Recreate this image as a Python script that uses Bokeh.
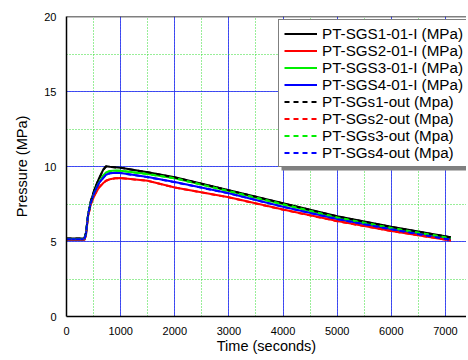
from bokeh.plotting import figure
from bokeh.models import SingleIntervalTicker, Span, Legend, LegendItem, Range1d, BoxAnnotation
from bokeh.embed import file_html
from bokeh.resources import INLINE

# ---- data ----
time_s = [0, 330, 360, 400, 450, 520, 600, 680, 730, 800, 900, 1000, 1500, 2000, 3000, 4000, 5000, 6000, 7100]

sgs1_in = [5.20, 5.20, 5.60, 6.80, 7.70, 8.50, 9.20, 9.80, 10.02, 9.98, 9.95, 9.92, 9.62, 9.28, 8.42, 7.55, 6.68, 5.98, 5.28]
sgs2_in = [5.10, 5.10, 5.40, 6.70, 7.50, 8.10, 8.60, 8.90, 9.05, 9.15, 9.22, 9.24, 9.05, 8.60, 7.95, 7.13, 6.36, 5.70, 5.07]
sgs3_in = [5.15, 5.15, 5.50, 6.80, 7.60, 8.30, 8.95, 9.40, 9.60, 9.70, 9.73, 9.72, 9.50, 9.22, 8.36, 7.48, 6.60, 5.90, 5.22]
sgs4_in = [5.15, 5.15, 5.50, 6.80, 7.60, 8.30, 8.90, 9.25, 9.45, 9.55, 9.58, 9.57, 9.30, 8.96, 8.22, 7.32, 6.50, 5.82, 5.12]

sgs1_out = [5.20, 5.20, 5.60, 6.80, 7.70, 8.50, 9.18, 9.78, 10.00, 9.97, 9.94, 9.91, 9.61, 9.27, 8.41, 7.54, 6.67, 5.97, 5.27]
sgs2_out = [5.10, 5.10, 5.40, 6.70, 7.50, 8.10, 8.60, 8.90, 9.05, 9.15, 9.21, 9.23, 9.04, 8.60, 7.94, 7.12, 6.35, 5.70, 5.07]
sgs3_out = [5.15, 5.15, 5.50, 6.80, 7.60, 8.30, 8.94, 9.39, 9.59, 9.69, 9.72, 9.71, 9.49, 9.21, 8.35, 7.47, 6.59, 5.89, 5.21]
sgs4_out = [5.15, 5.15, 5.50, 6.80, 7.60, 8.30, 8.90, 9.25, 9.45, 9.55, 9.58, 9.56, 9.29, 8.95, 8.21, 7.31, 6.49, 5.81, 5.11]

solid_labels = ["PT-SGS1-01-I (MPa)", "PT-SGS2-01-I (MPa)", "PT-SGS3-01-I (MPa)", "PT-SGS4-01-I (MPa)"]
dashed_labels = ["PT-SGs1-out (Mpa)", "PT-SGs2-out (Mpa)", "PT-SGs3-out (Mpa)", "PT-SGs4-out (Mpa)"]
colors = ["#000000", "#ff0000", "#00ee00", "#0000ff"]

FONT = "Liberation Sans"

X_MAX, Y_MAX = 7388, 20
FRAME_W, FRAME_H = 400, 300

p = figure(width=466, height=358, output_backend="svg", toolbar_location=None,
           x_range=Range1d(0, X_MAX), y_range=Range1d(0, Y_MAX),
           frame_width=FRAME_W, frame_height=FRAME_H,
           min_border_left=66, min_border_right=0, min_border_top=16, min_border_bottom=42)
p.outline_line_color = None
p.background_fill_color = "white"
p.border_fill_color = "white"

p.xaxis.ticker = SingleIntervalTicker(interval=1000, num_minor_ticks=2)
p.yaxis.ticker = SingleIntervalTicker(interval=5, num_minor_ticks=2)

for ax in (p.xaxis, p.yaxis):
    ax.major_tick_line_color = None
    ax.minor_tick_line_color = None
    ax.axis_line_color = "black"
    ax.axis_line_width = 1.5
    ax.major_label_text_font = FONT
    ax.major_label_text_font_size = "11px"
    ax.major_label_text_color = "black"
    ax.axis_label_text_font = FONT
    ax.axis_label_text_font_size = "14.5px"
    ax.axis_label_text_font_style = "normal"
    ax.axis_label_text_color = "black"

p.xaxis.major_label_standoff = 4
p.yaxis.major_label_standoff = 4
p.xaxis.axis_label = "Time (seconds)"
p.yaxis.axis_label = "Pressure (MPa)"
p.xaxis.axis_label_standoff = 0
p.yaxis.axis_label_standoff = 11

for g in (p.xgrid, p.ygrid):
    g.grid_line_color = "#2222ff"
    g.grid_line_width = 1
    g.grid_line_alpha = 0.8
    g.minor_grid_line_color = "#33dd33"
    g.minor_grid_line_dash = "1 2"
    g.minor_grid_line_width = 1

p.add_layout(Span(location=Y_MAX, dimension="width", line_color="black", line_width=1.5))

solid = [sgs1_in, sgs2_in, sgs3_in, sgs4_in]
dashed = [sgs1_out, sgs2_out, sgs3_out, sgs4_out]
items = []
for ys, c, lab in zip(solid, colors, solid_labels):
    r = p.line(time_s, ys, line_color=c, line_width=2)
    items.append(LegendItem(label=lab, renderers=[r]))
for ys, c, lab in zip(dashed, colors, dashed_labels):
    r = p.line(time_s, ys, line_color=c, line_width=2, line_dash="5 4")
    items.append(LegendItem(label=lab, renderers=[r]))

# legend placement (pixels from the frame's bottom-left corner)
LEG_X, LEG_Y = 212, 149
LEG_W, LEG_H = 186, 146
SHADOW = 3
px_x = X_MAX / FRAME_W
px_y = Y_MAX / FRAME_H
p.add_layout(BoxAnnotation(left=(LEG_X + SHADOW) * px_x, right=(LEG_X + LEG_W + SHADOW) * px_x,
                           bottom=(LEG_Y - SHADOW) * px_y, top=(LEG_Y + LEG_H - SHADOW) * px_y,
                           fill_color="#808080", fill_alpha=1, line_color=None))

legend = Legend(items=items, location=(LEG_X, LEG_Y))
legend.padding = 5
legend.spacing = 0
legend.label_height = 17
legend.glyph_height = 17
legend.glyph_width = 33
legend.label_standoff = 5
legend.label_text_font = FONT
legend.label_text_font_size = "15.2px"
legend.label_text_color = "black"
legend.border_line_color = "black"
legend.border_line_width = 1
legend.background_fill_color = "white"
legend.background_fill_alpha = 1
p.add_layout(legend)

open("out.html", "w").write(file_html(p, INLINE))
